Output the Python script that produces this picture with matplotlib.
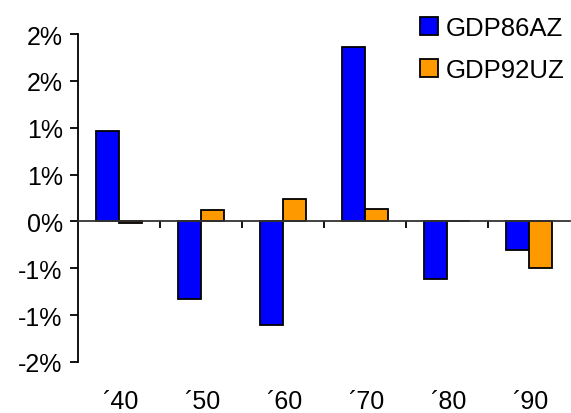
import numpy as np
import matplotlib
matplotlib.use('Agg')
import matplotlib.pyplot as plt
from matplotlib import rcParams
import matplotlib.transforms as mtransforms

rcParams['font.family'] = ['Liberation Sans', 'DejaVu Sans']
rcParams.update({'font.size': 18})

decades = ['\u00b440', '\u00b450', '\u00b460', '\u00b470', '\u00b480', '\u00b490']
gdp86az = [0.97, -0.83, -1.10, 1.86, -0.61, -0.31]
gdp92uz = [-0.02, 0.12, 0.24, 0.13, 0.0, -0.50]
y_ticks = [-1.5, -1.0, -0.5, 0.0, 0.5, 1.0, 1.5, 2.0]
y_tick_labels = ['-2%', '-1%', '-1%', '0%', '1%', '1%', '2%', '2%']

fig = plt.figure(figsize=(5.71, 4.14), dpi=100)
ax = fig.add_axes([78 / 571, 51 / 414, 492 / 571, 328 / 414])

x = np.arange(len(decades))
w = 1 / 3.5
edge = dict(edgecolor='black', linewidth=1.3)
ax.bar(x - w / 2, gdp86az, w, color='#0000FF', label='GDP86AZ', **edge)
ax.bar(x + w / 2, gdp92uz, w, color='#FF9900', label='GDP92UZ', **edge)

ax.set_xlim(-0.5, len(decades) - 0.5)
ax.set_ylim(-1.5, 2.0)

# y axis on the left, category axis running through zero
ax.spines['top'].set_visible(False)
ax.spines['right'].set_visible(False)
ax.spines['left'].set_linewidth(1.3)
ax.spines['bottom'].set_position(('data', 0))
ax.spines['bottom'].set_linewidth(1.3)
ax.spines['bottom'].set_color('#333333')

ax.set_yticks(y_ticks)
ax.set_yticklabels(y_tick_labels)
ax.tick_params(axis='y', direction='out', length=6, width=1.3, pad=5)

ax.set_xticks(x[:-1] + 0.5)
ax.set_xticklabels([])
ax.tick_params(axis='x', direction='out', length=5, width=1.3)

trans = mtransforms.blended_transform_factory(ax.transData, ax.transAxes)
for xi, lab in zip(x, decades):
    ax.text(xi + 0.02, -0.12, lab, transform=trans, ha='center', va='center')

leg = fig.legend(loc='upper right', bbox_to_anchor=(0.998, 0.971), frameon=False,
                 fontsize=18.5, handlelength=0.7, handleheight=0.7,
                 handletextpad=0.3, labelspacing=0.7, borderpad=0.2,
                 borderaxespad=0)

plt.savefig('out.png', dpi=100)
plt.close()
